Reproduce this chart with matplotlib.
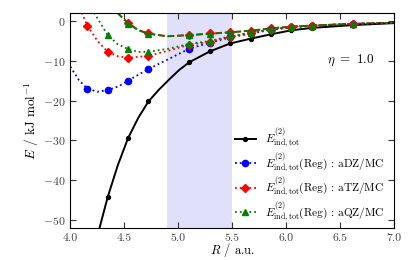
import numpy as np
import matplotlib
matplotlib.use("Agg")
import matplotlib.pyplot as plt

plt.rcParams['mathtext.fontset'] = 'cm'
plt.rcParams['font.family'] = 'serif'
plt.rcParams['font.serif'] = ['cmr10', 'DejaVu Serif']
plt.rcParams['axes.formatter.use_mathtext'] = True
plt.rcParams['axes.unicode_minus'] = True

# separations (bohr) where the points were computed
R_pts = np.array([4.157, 4.346, 4.535, 4.724, 5.102, 5.291, 5.480, 5.669, 5.858, 6.047, 6.236, 6.614])

# total induction, reference
R_tot = R_pts[1:]
E_tot = np.array([-44.2, -29.4, -20.2, -10.4, -7.7, -5.7, -4.5, -3.4, -2.4, -1.8, -1.1])
# extra curve points (no markers there)
R_tot_c = np.array([4.27, 4.44, 4.63, 4.82, 4.92, 5.01, 7.0])
E_tot_c = np.array([-52.0, -36.2, -24.3, -17.3, -14.6, -12.3, -0.6])

# regularised, aDZ
E_dz = np.array([-17.0, -17.4, -15.0, -12.1, -7.0, -5.5, -4.2, -3.2, -2.3, -1.7, -1.3, -0.8])
R_dz_c = np.array([4.0, 4.08, 4.25, 4.45, 4.91, 7.0])
E_dz_c = np.array([-11.5, -14.9, -17.8, -16.4, -9.6, -0.5])

# regularised, aTZ
E_tz = np.array([-1.2, -7.8, -9.3, -8.8, -6.0, -5.3, -4.0, -3.1, -2.2, -1.6, -1.2, -0.8])
R_tz_c = np.array([4.105, 4.25, 4.44, 4.91, 7.0])
E_tz_c = np.array([2.0, -5.0, -8.9, -7.5, -0.5])

# regularised, aQZ
R_qz = R_pts[1:]
E_qz = np.array([-3.6, -7.1, -7.8, -5.8, -5.1, -3.9, -3.0, -2.1, -1.5, -1.2, -0.8])
R_qz_c = np.array([4.22, 4.44, 4.63, 4.91, 7.0])
E_qz_c = np.array([2.0, -5.9, -7.8, -7.0, -0.5])

# dashed curves (aTZ and aQZ, second set)
R_d = R_pts[2:]
E_tz_d = np.array([-0.6, -3.2, -3.6, -3.2, -2.9, -2.5, -1.9, -1.5, -1.2, -0.8])
E_qz_d = np.array([-0.7, -3.3, -3.6, -3.3, -2.9, -2.5, -1.9, -1.5, -1.2, -0.8])
R_d_c = np.array([4.435, 4.63, 4.90, 7.0])
E_tz_d_c = np.array([2.0, -2.3, -3.9, -0.5])
E_qz_d_c = np.array([2.0, -2.4, -3.9, -0.5])


def merged(r1, e1, r2, e2):
    r = np.concatenate([r1, r2])
    e = np.concatenate([e1, e2])
    i = np.argsort(r)
    return r[i], e[i]


fig = plt.figure(figsize=(4.15, 2.6), dpi=100)
ax = fig.add_axes([0.1694, 0.122, 0.7807, 0.829])

ax.axvspan(4.9, 5.5, color='#e0e0fa', lw=0, zorder=0)

# dashed ones first
r, e = merged(R_d, E_tz_d, R_d_c, E_tz_d_c)
ax.plot(r, e, '--', color='r', lw=1.3)
ax.plot(R_d, E_tz_d, 'D', color='r', ms=4.5, mec='r')
r, e = merged(R_d, E_qz_d, R_d_c, E_qz_d_c)
ax.plot(r, e, '--', color='g', lw=1.3)
ax.plot(R_d, E_qz_d, '^', color='g', ms=5, mec='g')

handles = []
r, e = merged(R_tot, E_tot, R_tot_c, E_tot_c)
l1, = ax.plot(r, e, '-', color='k', lw=1.4)
m1, = ax.plot(R_tot, E_tot, 'o', color='k', ms=2.8)
handles.append((l1, m1))

r, e = merged(R_pts, E_dz, R_dz_c, E_dz_c)
l2, = ax.plot(r, e, ':', color='b', lw=1.3)
m2, = ax.plot(R_pts, E_dz, 'o', color='b', ms=4.5)
handles.append((l2, m2))

r, e = merged(R_pts, E_tz, R_tz_c, E_tz_c)
l3, = ax.plot(r, e, ':', color='r', lw=1.3)
m3, = ax.plot(R_pts, E_tz, 'D', color='r', ms=4.5)
handles.append((l3, m3))

r, e = merged(R_qz, E_qz, R_qz_c, E_qz_c)
l4, = ax.plot(r, e, ':', color='g', lw=1.3)
m4, = ax.plot(R_qz, E_qz, '^', color='g', ms=5)
handles.append((l4, m4))

labels = [r'$E^{(2)}_{\rm ind,tot}$',
          r'$E^{(2)}_{\rm ind,tot}({\rm Reg})\,:\,{\rm aDZ/MC}$',
          r'$E^{(2)}_{\rm ind,tot}({\rm Reg})\,:\,{\rm aTZ/MC}$',
          r'$E^{(2)}_{\rm ind,tot}({\rm Reg})\,:\,{\rm aQZ/MC}$']
ax.legend(handles, labels, loc='lower right', frameon=False, fontsize=8.2,
          handlelength=1.9, handletextpad=0.8, labelspacing=0.08,
          borderaxespad=0.0, bbox_to_anchor=(0.985, 0.0))

ax.text(6.6, -10, r'$\eta\ =\ 1.0$', ha='center', va='center', fontsize=9.5)

ax.set_xlim(4.0, 7.0)
ax.set_ylim(-52, 2)
ax.set_xticks(np.arange(4.0, 7.01, 0.5))
ax.set_yticks([0, -10, -20, -30, -40, -50])
ax.xaxis.set_major_formatter(matplotlib.ticker.FormatStrFormatter('%.1f'))
ax.tick_params(direction='in', top=True, right=True, labelsize=8.5, length=4,
               colors='#333333', labelcolor='#444444')
ax.set_xlabel(r'$R$ / a.u.', fontsize=9, labelpad=-1)
ax.set_ylabel(r'$E$ / kJ mol$^{-1}$', fontsize=9.5, labelpad=1)

fig.savefig('out.png', dpi=100)
